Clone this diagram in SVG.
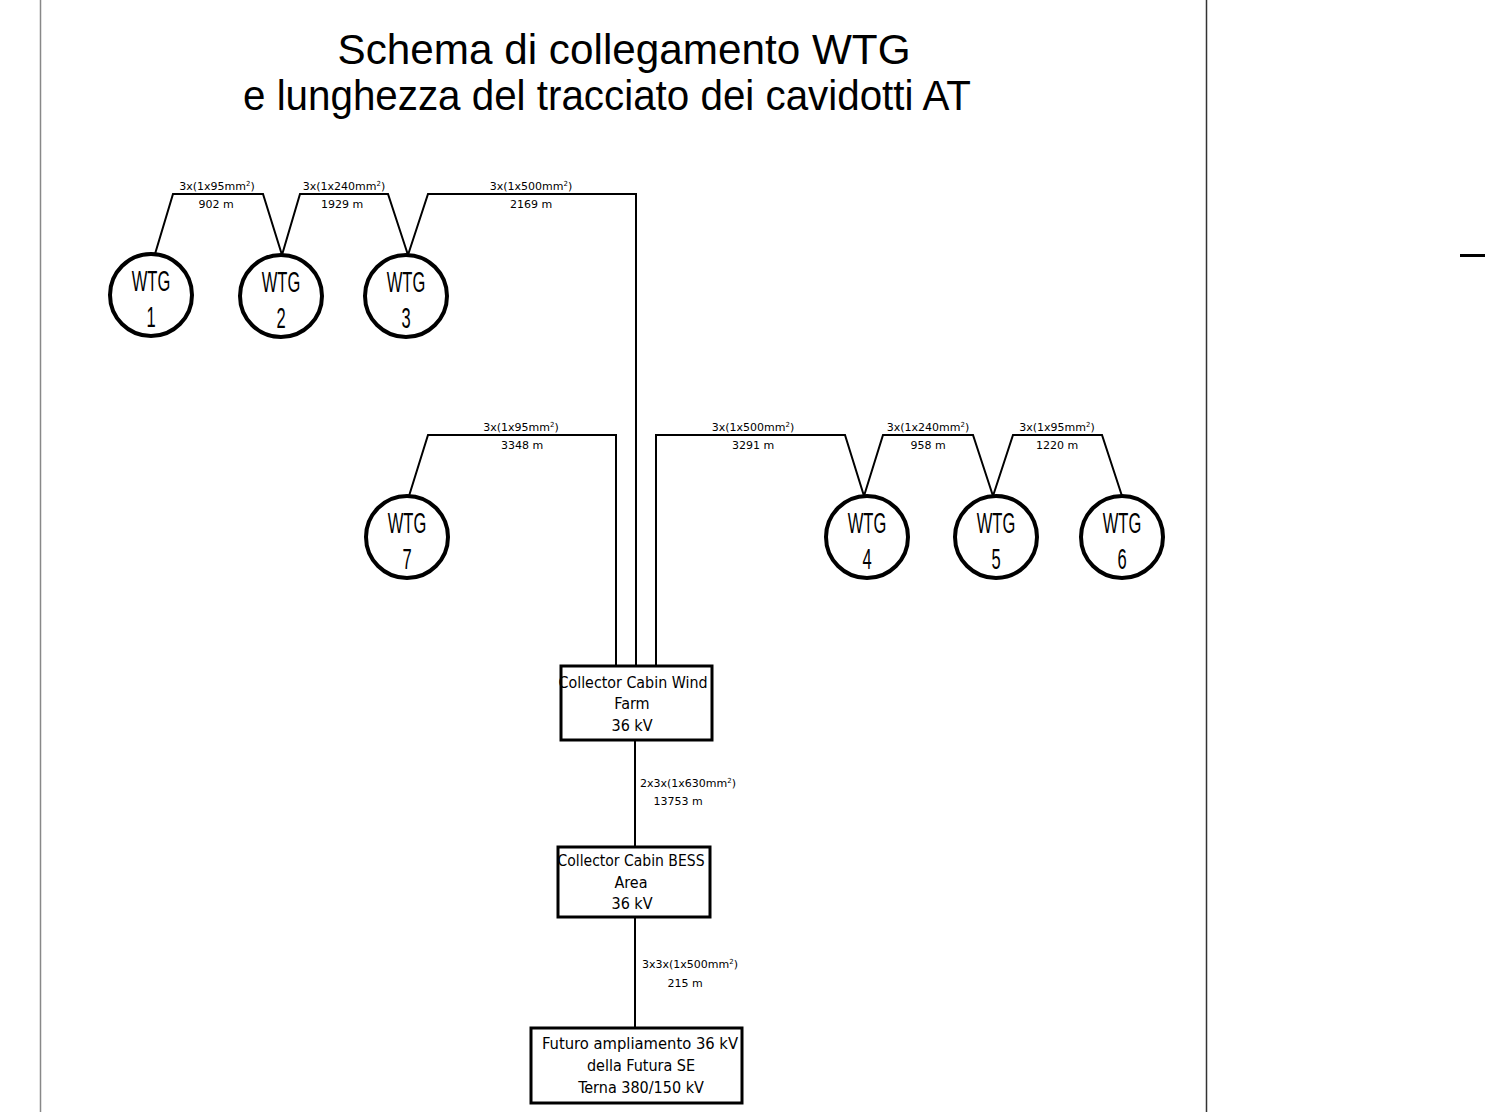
<svg xmlns="http://www.w3.org/2000/svg" width="1485" height="1112" viewBox="0 0 1485 1112">
<style>
.title{font-family:"Liberation Sans",Arial,sans-serif;font-size:43px;fill:#000;text-anchor:middle}
.wtg circle{fill:#fff;stroke:#000;stroke-width:4}
.wtg text{font-family:"Liberation Sans",Arial,sans-serif;font-size:30px;fill:#000;text-anchor:middle}
.lbl{font-family:"DejaVu Sans",sans-serif;font-size:11px;fill:#000;text-anchor:middle}
.lbls{font-family:"DejaVu Sans",sans-serif;font-size:11px;fill:#000}
.box rect{fill:#fff;stroke:#000;stroke-width:3}
.box text{font-family:"DejaVu Sans Condensed","DejaVu Sans",sans-serif;font-size:16px;fill:#000;text-anchor:middle}
.conn polyline,.conn line{fill:none;stroke:#000;stroke-width:2}
</style>
<rect width="1485" height="1112" fill="#fff"/>
<g id="frame">
<line x1="40.5" y1="0" x2="40.5" y2="1112" stroke="#888" stroke-width="1.5"/>
<line x1="1206.5" y1="0" x2="1206.5" y2="1112" stroke="#333" stroke-width="1.5"/>
<line x1="1460" y1="255.5" x2="1485" y2="255.5" stroke="#000" stroke-width="3"/>
</g>
<g id="title">
<text class="title" x="624" y="64" textLength="573" lengthAdjust="spacingAndGlyphs">Schema di collegamento WTG</text>
<text class="title" x="607" y="110" textLength="728" lengthAdjust="spacingAndGlyphs">e lunghezza del tracciato dei cavidotti AT</text>
</g>
<g id="connectors" class="conn">
<polyline points="155,254 173,194 263,194 282,255"/>
<polyline points="282,255 300,194 388,194 408,255"/>
<polyline points="408,255 428,194 636,194 636,666"/>
<polyline points="409,496 428,435 616,435 616,666"/>
<polyline points="864,496 845,435 656,435 656,666"/>
<polyline points="993,496 973,435 883,435 864,496"/>
<polyline points="1122,496 1102,435 1013,435 993,496"/>
<line x1="635" y1="740" x2="635" y2="847"/>
<line x1="635" y1="917" x2="635" y2="1028"/>
</g>
<g id="labels">
<text class="lbl" x="217" y="190">3x(1x95mm<tspan font-size="7" dy="-4">2</tspan><tspan dy="4">)</tspan></text>
<text class="lbl" x="216" y="208">902 m</text>
<text class="lbl" x="344" y="190">3x(1x240mm<tspan font-size="7" dy="-4">2</tspan><tspan dy="4">)</tspan></text>
<text class="lbl" x="342" y="208">1929 m</text>
<text class="lbl" x="531" y="190">3x(1x500mm<tspan font-size="7" dy="-4">2</tspan><tspan dy="4">)</tspan></text>
<text class="lbl" x="531" y="208">2169 m</text>
<text class="lbl" x="521" y="431">3x(1x95mm<tspan font-size="7" dy="-4">2</tspan><tspan dy="4">)</tspan></text>
<text class="lbl" x="522" y="449">3348 m</text>
<text class="lbl" x="753" y="431">3x(1x500mm<tspan font-size="7" dy="-4">2</tspan><tspan dy="4">)</tspan></text>
<text class="lbl" x="753" y="449">3291 m</text>
<text class="lbl" x="928" y="431">3x(1x240mm<tspan font-size="7" dy="-4">2</tspan><tspan dy="4">)</tspan></text>
<text class="lbl" x="928" y="449">958 m</text>
<text class="lbl" x="1057" y="431">3x(1x95mm<tspan font-size="7" dy="-4">2</tspan><tspan dy="4">)</tspan></text>
<text class="lbl" x="1057" y="449">1220 m</text>
<text class="lbls" x="640" y="787">2x3x(1x630mm<tspan font-size="7" dy="-4">2</tspan><tspan dy="4">)</tspan></text>
<text class="lbl" x="678" y="805">13753 m</text>
<text class="lbls" x="642" y="968">3x3x(1x500mm<tspan font-size="7" dy="-4">2</tspan><tspan dy="4">)</tspan></text>
<text class="lbl" x="685" y="987">215 m</text>
</g>
<g id="wtg1" class="wtg" transform="translate(151,295)"><circle r="41"/><text transform="scale(0.55,1)" y="-4">WTG</text><text transform="scale(0.55,1)" y="32">1</text></g>
<g id="wtg2" class="wtg" transform="translate(281,296)"><circle r="41"/><text transform="scale(0.55,1)" y="-4">WTG</text><text transform="scale(0.55,1)" y="32">2</text></g>
<g id="wtg3" class="wtg" transform="translate(406,296)"><circle r="41"/><text transform="scale(0.55,1)" y="-4">WTG</text><text transform="scale(0.55,1)" y="32">3</text></g>
<g id="wtg7" class="wtg" transform="translate(407,537)"><circle r="41"/><text transform="scale(0.55,1)" y="-4">WTG</text><text transform="scale(0.55,1)" y="32">7</text></g>
<g id="wtg4" class="wtg" transform="translate(867,537)"><circle r="41"/><text transform="scale(0.55,1)" y="-4">WTG</text><text transform="scale(0.55,1)" y="32">4</text></g>
<g id="wtg5" class="wtg" transform="translate(996,537)"><circle r="41"/><text transform="scale(0.55,1)" y="-4">WTG</text><text transform="scale(0.55,1)" y="32">5</text></g>
<g id="wtg6" class="wtg" transform="translate(1122,537)"><circle r="41"/><text transform="scale(0.55,1)" y="-4">WTG</text><text transform="scale(0.55,1)" y="32">6</text></g>
<g id="box-wind" class="box">
<rect x="561" y="666" width="151" height="74"/>
<text x="633" y="688" textLength="149" lengthAdjust="spacingAndGlyphs">Collector Cabin Wind</text>
<text x="632" y="709">Farm</text>
<text x="632" y="731">36 kV</text>
</g>
<g id="box-bess" class="box">
<rect x="558" y="847" width="152" height="70"/>
<text x="631" y="866" textLength="147" lengthAdjust="spacingAndGlyphs">Collector Cabin BESS</text>
<text x="631" y="888">Area</text>
<text x="632" y="909">36 kV</text>
</g>
<g id="box-se" class="box">
<rect x="531" y="1028" width="211" height="75"/>
<text x="640" y="1049" textLength="196" lengthAdjust="spacingAndGlyphs">Futuro ampliamento 36 kV</text>
<text x="641" y="1071">della Futura SE</text>
<text x="641" y="1093">Terna 380/150 kV</text>
</g>
</svg>
